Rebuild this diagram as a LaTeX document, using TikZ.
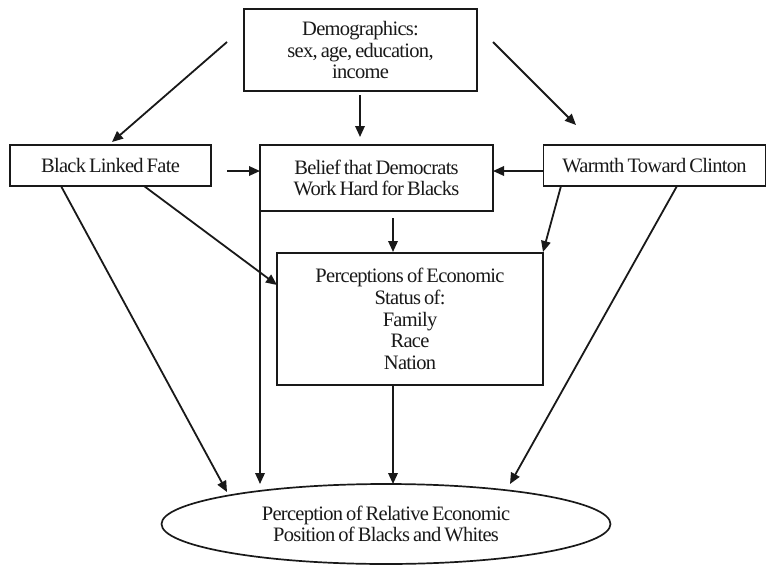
\documentclass[tikz,border=0pt]{standalone}
\usepackage{fontspec}
\setmainfont{Liberation Serif}[LetterSpace=-3.5,WordSpace=0.7]
\usetikzlibrary{arrows.meta,shapes.geometric,calc}
\begin{document}
\begin{tikzpicture}[x=1pt,y=-1pt,
  every node/.style={font=\fontsize{20.5}{21.8}\selectfont, align=center, inner sep=0pt, text=black!90},
  box/.style={draw=black!90, line width=1.7pt, rectangle},
  oval/.style={draw=black!90, line width=1.7pt, ellipse},
  arr/.style={draw=black!90, line width=1.8pt, -{Triangle[length=11pt,width=9.5pt]}}]
\useasboundingbox (0,0) rectangle (766,565);
% nodes
\node[box, minimum width=233pt, minimum height=82pt] (demo) at (360.5,50) {Demographics:\\sex, age, education,\\income};
\node[box, minimum width=201pt, minimum height=41pt] (black) at (110.5,165.5) {Black Linked Fate};
\node[box, minimum width=233pt, minimum height=66pt] (belief) at (376.5,178) {Belief that Democrats\\Work Hard for Blacks};
\node[box, minimum width=222pt, minimum height=41pt] (warmth) at (654.5,165.5) {Warmth Toward Clinton};
\node[box, minimum width=266pt, minimum height=132pt] (perc) at (410,319) {Perceptions of Economic\\Status of:\\Family\\Race\\Nation};
\node[oval, minimum width=449pt, minimum height=80pt] (pos) at (386,524) {\raisebox{4pt}{\parbox{300pt}{\centering Perception of Relative Economic\\Position of Blacks and Whites}}};
% free ends
\coordinate (dl) at (227,42);
\coordinate (dlt) at (112,142);
\coordinate (ds) at (360,95);
\coordinate (dst) at (360,137);
\coordinate (dr) at (493,42);
\coordinate (drt) at (576,125);
\coordinate (bb) at (227,171);
\coordinate (bbt) at (260,171);
\coordinate (wb) at (543,171);
\coordinate (wbt) at (493,171);
\coordinate (bp) at (393,218);
\coordinate (bpt) at (393,252);
\coordinate (wp) at (561,186);
\coordinate (wpt) at (543,252);
\coordinate (kp) at (144,186);
\coordinate (kpt) at (277,285);
\coordinate (ke) at (61,186);
\coordinate (ket) at (227,492);
\coordinate (ve) at (260,211);
\coordinate (vet) at (260,484);
\coordinate (pe) at (393,385);
\coordinate (pet) at (393,484);
\coordinate (we) at (677,186);
\coordinate (wet) at (510,484);
% connectors
\draw[arr] (dl) -- (dlt);
\draw[arr] (ds) -- (dst);
\draw[arr] (dr) -- (drt);
\draw[arr] (bb) -- (bbt);
\draw[arr] (wb) -- (wbt);
\draw[arr] (bp) -- (bpt);
\draw[arr] (wp) -- (wpt);
\draw[arr] (kp) -- (kpt);
\draw[arr] (ke) -- (ket);
\draw[arr] (ve) -- (vet);
\draw[arr] (pe) -- (pet);
\draw[arr] (we) -- (wet);
\end{tikzpicture}
\end{document}
